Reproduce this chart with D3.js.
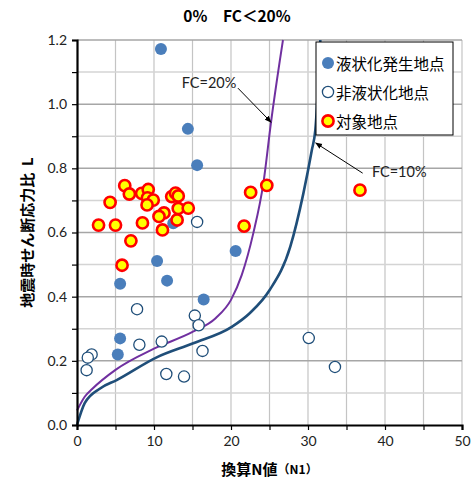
<!DOCTYPE html>
<html>
<head>
<meta charset="utf-8">
<script src="https://cdn.jsdelivr.net/npm/d3@7"></script>
<style>
  body { margin: 0; background: #fff; }
  svg { display: block; }
</style>
</head>
<body>
<div class="chart-container"></div>
<script>
// 液状化発生地点 [N1, L]
const liquefied = [
    [10.9, 1.172], [14.4, 0.923], [15.6, 0.810], [20.6, 0.542], [10.4, 0.511],
    [11.7, 0.450], [5.6, 0.440], [16.45, 0.391], [5.6, 0.270], [5.3, 0.220],
    [12.5, 0.629]
];
// 非液状化地点
const nonLiquefied = [
    [15.6, 0.633], [7.8, 0.361], [15.3, 0.341], [15.8, 0.311], [8.1, 0.250],
    [11.0, 0.260], [16.3, 0.231], [1.9, 0.220], [1.4, 0.210], [1.25, 0.171],
    [11.6, 0.159], [13.9, 0.151], [30.1, 0.271], [33.5, 0.181]
];
// 対象地点
const target = [
    [2.8, 0.623], [5.0, 0.623], [4.3, 0.694], [6.2, 0.746], [6.8, 0.720],
    [8.4, 0.722], [9.25, 0.734], [9.15, 0.708], [9.9, 0.701], [9.1, 0.686],
    [8.5, 0.630], [7.0, 0.574], [5.85, 0.498], [12.3, 0.712], [12.8, 0.723],
    [13.15, 0.714], [11.3, 0.661], [10.65, 0.650], [13.15, 0.675], [14.45, 0.676],
    [13.0, 0.639], [11.1, 0.608], [22.55, 0.725], [24.65, 0.747], [21.7, 0.620],
    [36.75, 0.732]
];
// 境界線
const curveFC20 = [
    [0, 0.045], [1, 0.088], [2, 0.113], [5, 0.172], [10, 0.238], [15, 0.290],
    [18, 0.333], [20, 0.390], [21.4, 0.468], [22.9, 0.598], [24.2, 0.753],
    [25.2, 0.944], [26.35, 1.137], [26.75, 1.2]
];
const curveFC10 = [
    [0, 0], [1, 0.068], [3, 0.114], [5.15, 0.140], [10.35, 0.211], [15.1, 0.255],
    [20.1, 0.306], [22.5, 0.350], [25.0, 0.420], [27.7, 0.556], [29.4, 0.722],
    [30.5, 0.857], [30.95, 0.919], [31.6, 1.2]
];

const xTicks = [0, 10, 20, 30, 40, 50];
const yTicks = [0, 0.2, 0.4, 0.6, 0.8, 1.0, 1.2];
const legendLabels = ['液状化発生地点', '非液状化地点', '対象地点'];
// annotation: label position, arrow start, arrow end (data units)
const annotations = [
    {text: 'FC=20%', pos: [13.6, 1.066], from: [20.9, 1.05], to: [25.2, 0.944]},
    {text: 'FC=10%', pos: [38.3, 0.789], from: [37.1, 0.785], to: [31.0, 0.879]}
];

function setupCanvas(){
    const svg_width = 474;
    const svg_height = 481;
    const margin = {top: 40, right: 12, bottom: 56, left: 77};
    const chart_width = svg_width - (margin.left + margin.right);
    const chart_height = svg_height - (margin.top + margin.bottom);

    const svg = d3.select('.chart-container')
                  .append('svg')
                  .attr('width', svg_width)
                  .attr('height', svg_height);

    svg.append('defs').append('marker')
       .attr('id', 'arrow')
       .attr('viewBox', '0 0 10 10')
       .attr('refX', 9).attr('refY', 5)
       .attr('markerWidth', 7).attr('markerHeight', 7)
       .attr('orient', 'auto')
       .append('path')
       .attr('d', 'M0,1 L10,5 L0,9 z')
       .attr('fill', '#000');

    const g = svg.append('g')
                 .attr('transform', `translate(${margin.left}, ${margin.top})`);

    const xScale = d3.scaleLinear().domain([0, 50]).range([0, chart_width]);
    const yScale = d3.scaleLinear().domain([0, 1.2]).range([chart_height, 0]);

    // grid
    const grid = g.append('g').attr('class', 'grid');
    grid.selectAll('.vgrid').data(d3.range(5, 51, 5)).enter()
        .append('line')
        .attr('x1', d => xScale(d)).attr('x2', d => xScale(d))
        .attr('y1', 0).attr('y2', chart_height)
        .style('stroke', '#c4c4c4').style('stroke-width', 1.2);
    grid.selectAll('.hgrid').data(d3.range(1, 13)).enter()
        .append('line')
        .attr('x1', 0).attr('x2', chart_width)
        .attr('y1', d => yScale(d / 10)).attr('y2', d => yScale(d / 10))
        .style('stroke', d => d % 2 === 0 ? '#a6a6a6' : '#d4d4d4')
        .style('stroke-width', 1.5);

    // curves
    const lineGen = d3.line()
                      .x(d => xScale(d[0]))
                      .y(d => yScale(d[1]))
                      .curve(d3.curveMonotoneX);
    g.append('path').attr('d', lineGen(curveFC20))
     .style('fill', 'none').style('stroke', '#7030a0').style('stroke-width', 2);
    g.append('path').attr('d', lineGen(curveFC10))
     .style('fill', 'none').style('stroke', '#1f4e79').style('stroke-width', 2.6);

    // axes
    const xAxis = d3.axisBottom(xScale).tickValues(d3.range(0, 51, 5))
                    .tickFormat(d => xTicks.includes(d) ? d : '')
                    .tickSize(5).tickPadding(6);
    const xg = g.append('g').attr('transform', `translate(0, ${chart_height})`).call(xAxis);
    const yAxis = d3.axisLeft(yScale).tickValues(d3.range(0, 13).map(d => d / 10))
                    .tickFormat(d => yTicks.some(t => Math.abs(t - d) < 1e-9) ? d3.format('.1f')(d) : '')
                    .tickSize(5).tickPadding(5);
    const yg = g.append('g').call(yAxis);
    [xg, yg].forEach(a => {
        a.select('.domain').style('stroke', '#000').style('stroke-width', 2.2);
        a.selectAll('.tick line').style('stroke', '#000').style('stroke-width', 1.2);
        a.selectAll('.tick text').style('font-family', 'Lato, "Open Sans", sans-serif')
         .style('font-size', '14px').style('fill', '#222');
    });

    // points
    g.append('g').selectAll('circle').data(liquefied).enter()
     .append('circle')
     .attr('cx', d => xScale(d[0])).attr('cy', d => yScale(d[1]))
     .attr('r', 6)
     .style('fill', '#4a7ebb');
    g.append('g').selectAll('circle').data(nonLiquefied).enter()
     .append('circle')
     .attr('cx', d => xScale(d[0])).attr('cy', d => yScale(d[1]))
     .attr('r', 5.6)
     .style('fill', '#fff').style('stroke', '#1f4e79').style('stroke-width', 1.3);
    g.append('g').selectAll('circle').data(target).enter()
     .append('circle')
     .attr('cx', d => xScale(d[0])).attr('cy', d => yScale(d[1]))
     .attr('r', 5.6)
     .style('fill', '#ffff00').style('stroke', '#ff0000').style('stroke-width', 2.6);

    // annotations
    const ann = g.append('g').attr('class', 'annotations');
    ann.selectAll('line').data(annotations).enter()
       .append('line')
       .attr('x1', d => xScale(d.from[0])).attr('y1', d => yScale(d.from[1]))
       .attr('x2', d => xScale(d.to[0])).attr('y2', d => yScale(d.to[1]))
       .style('stroke', '#000').style('stroke-width', 1)
       .attr('marker-end', 'url(#arrow)');
    ann.selectAll('text').data(annotations).enter()
       .append('text')
       .attr('x', d => xScale(d.pos[0])).attr('y', d => yScale(d.pos[1]))
       .text(d => d.text)
       .style('dominant-baseline', 'central')
       .style('font-family', 'Lato, "Open Sans", sans-serif')
       .style('font-size', '14.5px').style('fill', '#222');

    // legend
    const legend = svg.append('g').attr('transform', 'translate(316, 42)');
    legend.append('rect').attr('width', 137).attr('height', 93)
          .style('fill', '#fff').style('stroke', '#000').style('stroke-width', 1);
    const item = legend.selectAll('.item').data(legendLabels).enter()
                       .append('g')
                       .attr('transform', (d, i) => `translate(12, ${21 + i * 29})`);
    item.append('circle').attr('r', (d, i) => i === 0 ? 6 : 5.6)
        .style('fill', (d, i) => ['#4a7ebb', '#fff', '#ffff00'][i])
        .style('stroke', (d, i) => ['none', '#1f4e79', '#ff0000'][i])
        .style('stroke-width', (d, i) => [0, 1.3, 2.6][i]);
    item.append('text').attr('x', 8).text(d => d)
        .style('dominant-baseline', 'central')
        .style('font-family', '"Noto Sans CJK JP", sans-serif')
        .style('font-size', '15.5px').style('fill', '#000');

    // title & axis labels
    svg.append('text').attr('x', 237).attr('y', 15)
       .attr('text-anchor', 'middle').style('dominant-baseline', 'central')
       .text('0%　FC＜20%')
       .style('font-family', '"Noto Sans CJK JP", sans-serif')
       .style('font-size', '15.5px').style('font-weight', 'bold');

    const xLabel = svg.append('text')
                      .attr('x', margin.left + chart_width / 2).attr('y', 468)
                      .attr('text-anchor', 'middle').style('dominant-baseline', 'central')
                      .style('font-family', '"Noto Sans CJK JP", sans-serif')
                      .style('font-weight', 'bold');
    xLabel.append('tspan').text('換算N値').style('font-size', '15px');
    xLabel.append('tspan').text('（N1）').style('font-size', '12px');

    svg.append('text')
       .attr('transform', `translate(26, ${margin.top + chart_height / 2}) rotate(-90)`)
       .attr('text-anchor', 'middle').style('dominant-baseline', 'central')
       .text('地震時せん断応力比\u00a0\u00a0L')
       .style('font-family', '"Noto Sans CJK JP", sans-serif')
       .style('font-size', '15px').style('font-weight', 'bold');
}

setupCanvas();
</script>
</body>
</html>
